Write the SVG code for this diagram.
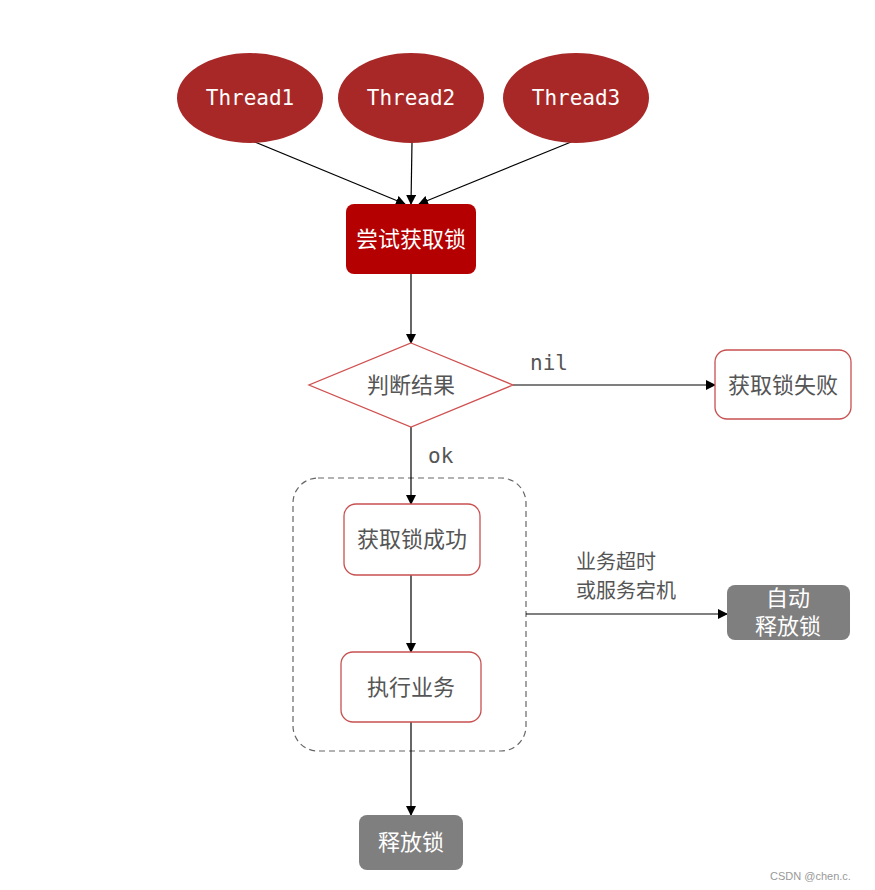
<svg xmlns="http://www.w3.org/2000/svg" width="875" height="890" viewBox="0 0 875 890">
<style>
.cn{font-family:"Noto Sans CJK SC","Noto Sans",sans-serif;font-size:22px;text-anchor:middle}
.cn2{font-family:"Noto Sans CJK SC","Noto Sans",sans-serif;font-size:20px}
.mono{font-family:"DejaVu Sans Mono","Liberation Mono",monospace;font-size:21px}
.th{fill:#a82828}
.rb{fill:#fff;stroke:#c85050;stroke-width:1.3}
.gb{fill:#7f7f7f}
.ln{stroke:#000;stroke-width:1.2;fill:none;marker-end:url(#a)}
</style>
<defs><marker id="a" markerWidth="10" markerHeight="10" refX="9" refY="5" orient="auto" markerUnits="userSpaceOnUse"><path d="M0,0 L10,5 L0,10 z" fill="#000"/></marker></defs>
<rect width="875" height="890" fill="#fff"/>
<g id="container"><rect x="293" y="478" width="233" height="273" rx="25" fill="none" stroke="#666" stroke-dasharray="6,4" stroke-width="1.2"/></g>
<g id="connectors">
<line class="ln" x1="250" y1="140" x2="405" y2="204"/>
<line class="ln" x1="412" y1="142" x2="411" y2="204"/>
<line class="ln" x1="576" y1="140" x2="419" y2="204"/>
<line class="ln" x1="411" y1="274" x2="411" y2="343"/>
<line class="ln" x1="513" y1="385" x2="715" y2="385"/>
<line class="ln" x1="411" y1="427" x2="411" y2="504"/>
<line class="ln" x1="411" y1="575" x2="411" y2="652"/>
<line class="ln" x1="411" y1="722" x2="411" y2="815"/>
<line class="ln" x1="526" y1="614" x2="727" y2="614"/>
<text class="mono" x="530" y="370" fill="#555">nil</text>
<text class="mono" x="428" y="463" fill="#555">ok</text>
<text class="cn2" x="576" y="569" fill="#555">业务超时</text>
<text class="cn2" x="576" y="598" fill="#555">或服务宕机</text>
</g>
<g id="t1"><ellipse class="th" cx="250" cy="98" rx="73" ry="45"/><text class="mono" x="250" y="105" fill="#fff" text-anchor="middle">Thread1</text></g>
<g id="t2"><ellipse class="th" cx="411" cy="98" rx="73" ry="45"/><text class="mono" x="411" y="105" fill="#fff" text-anchor="middle">Thread2</text></g>
<g id="t3"><ellipse class="th" cx="576" cy="98" rx="73" ry="45"/><text class="mono" x="576" y="105" fill="#fff" text-anchor="middle">Thread3</text></g>
<g id="try"><rect x="346" y="204" width="130" height="70" rx="8" fill="#b40000"/><text class="cn" x="411" y="247" fill="#fff">尝试获取锁</text></g>
<g id="judge"><polygon points="411,343 513,385 411,427 309,385" fill="#fff" stroke="#d05050" stroke-width="1.3"/><text class="cn" x="411" y="393" fill="#555">判断结果</text></g>
<g id="fail"><rect class="rb" x="715" y="350" width="136" height="69" rx="12"/><text class="cn" x="783" y="393" fill="#555">获取锁失败</text></g>
<g id="ok"><rect class="rb" x="344" y="504" width="136" height="71" rx="12"/><text class="cn" x="412" y="547" fill="#555">获取锁成功</text></g>
<g id="exec"><rect class="rb" x="341" y="652" width="140" height="70" rx="12"/><text class="cn" x="411" y="695" fill="#555">执行业务</text></g>
<g id="auto"><rect class="gb" x="727" y="585" width="123" height="55" rx="8"/><text class="cn" x="788" y="606" fill="#fff" font-size="19">自动</text><text class="cn" x="788" y="634" fill="#fff" font-size="19">释放锁</text></g>
<g id="release"><rect class="gb" x="359" y="815" width="104" height="55" rx="8"/><text class="cn" x="411" y="850" fill="#fff">释放锁</text></g>
<text x="770" y="880" font-family="Liberation Sans,sans-serif" font-size="11" fill="#999">CSDN @chen.c.</text>
</svg>
